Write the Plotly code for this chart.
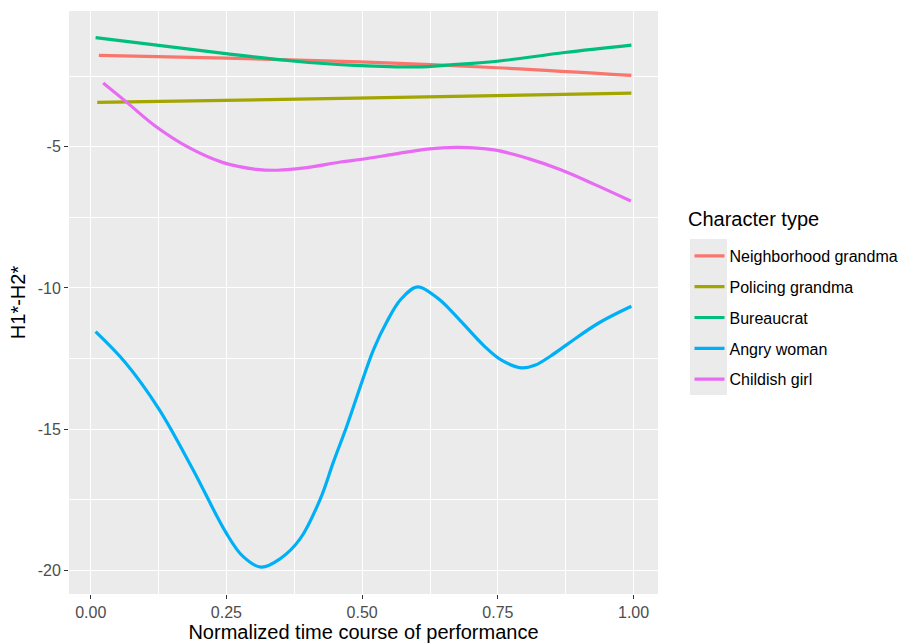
import plotly.graph_objects as go

# ---- data ----
series_names = ["Neighborhood grandma", "Policing grandma", "Bureaucrat", "Angry woman", "Childish girl"]
series_colors = ["#F8766D", "#A3A500", "#00BF7D", "#00B0F6", "#E76BF3"]

neigh_x = [0.015, 0.25, 0.496, 0.749, 0.996]
neigh_y = [-1.76, -1.86, -1.99, -2.20, -2.47]

police_x = [0.012, 0.515, 0.996]
police_y = [-3.43, -3.27, -3.10]

bureau_x = [0.009, 0.249, 0.372, 0.478, 0.601, 0.663, 0.749, 0.873, 0.996]
bureau_y = [-1.13, -1.70, -1.96, -2.11, -2.17, -2.10, -1.97, -1.66, -1.40]

angry_x = [0.009, 0.064, 0.126, 0.188, 0.249, 0.280, 0.314, 0.349, 0.386, 0.423,
           0.447, 0.472, 0.497, 0.521, 0.546, 0.571, 0.602, 0.639, 0.663, 0.725,
           0.756, 0.793, 0.818, 0.848, 0.879, 0.935, 0.996]
angry_y = [-11.55, -12.65, -14.30, -16.42, -18.66, -19.50, -19.89, -19.59, -18.88, -17.47,
           -16.17, -14.88, -13.47, -12.18, -11.18, -10.41, -9.96, -10.36, -10.79, -12.06,
           -12.55, -12.83, -12.74, -12.40, -11.98, -11.25, -10.65]

child_x = [0.023, 0.065, 0.120, 0.182, 0.244, 0.306, 0.343, 0.398, 0.460, 0.500,
           0.559, 0.620, 0.676, 0.743, 0.805, 0.867, 0.928, 0.995]
child_y = [-2.74, -3.40, -4.28, -5.04, -5.56, -5.80, -5.83, -5.74, -5.54, -5.44,
           -5.26, -5.08, -5.02, -5.11, -5.41, -5.82, -6.33, -6.92]

x_tickvals = [0, 0.25, 0.5, 0.75, 1.0]
x_ticktext = ["0.00", "0.25", "0.50", "0.75", "1.00"]
x_minor = [0.125, 0.375, 0.625, 0.875]
y_tickvals = [-20, -15, -10, -5]
y_ticktext = ["-20", "-15", "-10", "-5"]
y_minor = [-17.5, -12.5, -7.5, -2.5]

all_x = [neigh_x, police_x, bureau_x, angry_x, child_x]
all_y = [neigh_y, police_y, bureau_y, angry_y, child_y]

FONT = "Liberation Sans, Arial, Helvetica, sans-serif"
W, H = 898, 643

# plot panel in pixels (for placing legend decorations)
PL, PR, PT, PB = 69, 658, 11, 594
def px_x(p):
    return (p - PL) / (PR - PL)
def px_y(p):
    return (PB - p) / (PB - PT)

fig = go.Figure()
for i, (name, col, xs, ys) in enumerate(zip(series_names, series_colors, all_x, all_y)):
    fig.add_trace(go.Scatter(
        x=xs, y=ys, mode="lines", name=name,
        line=dict(color=col, width=3.2, shape="spline", smoothing=1.0),
        legendgroup=f"g{i}", hoverinfo="skip",
    ))

# grey background behind legend keys (ggplot style)
fig.add_shape(type="rect", xref="paper", yref="paper",
              x0=px_x(690), x1=px_x(727), y0=px_y(395), y1=px_y(239),
              fillcolor="#EBEBEB", line=dict(width=0), layer="below")

fig.add_annotation(text="Character type", xref="paper", yref="paper",
                   x=px_x(686), y=px_y(219), xanchor="left", yanchor="middle",
                   showarrow=False, font=dict(size=20, color="black", family=FONT))

fig.update_layout(
    width=W, height=H,
    margin=dict(l=PL, r=W - PR, t=PT, b=H - PB),
    paper_bgcolor="white", plot_bgcolor="#EBEBEB",
    font=dict(family=FONT, color="black"),
    showlegend=True,
    legend=dict(
        font=dict(size=16, color="black"),
        xref="container", yref="container",
        x=689.5 / W, xanchor="left", y=1 - 239 / H, yanchor="top",
        bgcolor="rgba(0,0,0,0)", borderwidth=0,
        tracegroupgap=7, itemwidth=30,
    ),
    xaxis=dict(
        range=[-0.040, 1.045], automargin=False,
        tickvals=x_tickvals, ticktext=x_ticktext,
        ticks="outside", ticklen=4, tickwidth=1.1, tickcolor="#333333",
        tickfont=dict(size=16, color="#4D4D4D"),
        showgrid=True, gridcolor="white", gridwidth=1.2,
        minor=dict(tickvals=x_minor, showgrid=True, gridcolor="white", gridwidth=0.6, ticks=""),
        zeroline=False, showline=False,
        title=dict(text="Normalized time course of performance", font=dict(size=20, color="black"), standoff=6),
    ),
    yaxis=dict(
        range=[-20.84, -0.19], automargin=False,
        tickvals=y_tickvals, ticktext=y_ticktext,
        ticks="outside", ticklen=4, tickwidth=1.1, tickcolor="#333333",
        tickfont=dict(size=16, color="#4D4D4D"),
        showgrid=True, gridcolor="white", gridwidth=1.2,
        minor=dict(tickvals=y_minor, showgrid=True, gridcolor="white", gridwidth=0.6, ticks=""),
        zeroline=False, showline=False,
        title=dict(text="H1*-H2*", font=dict(size=20, color="black"), standoff=6),
    ),
)

fig.write_html("out.html")
